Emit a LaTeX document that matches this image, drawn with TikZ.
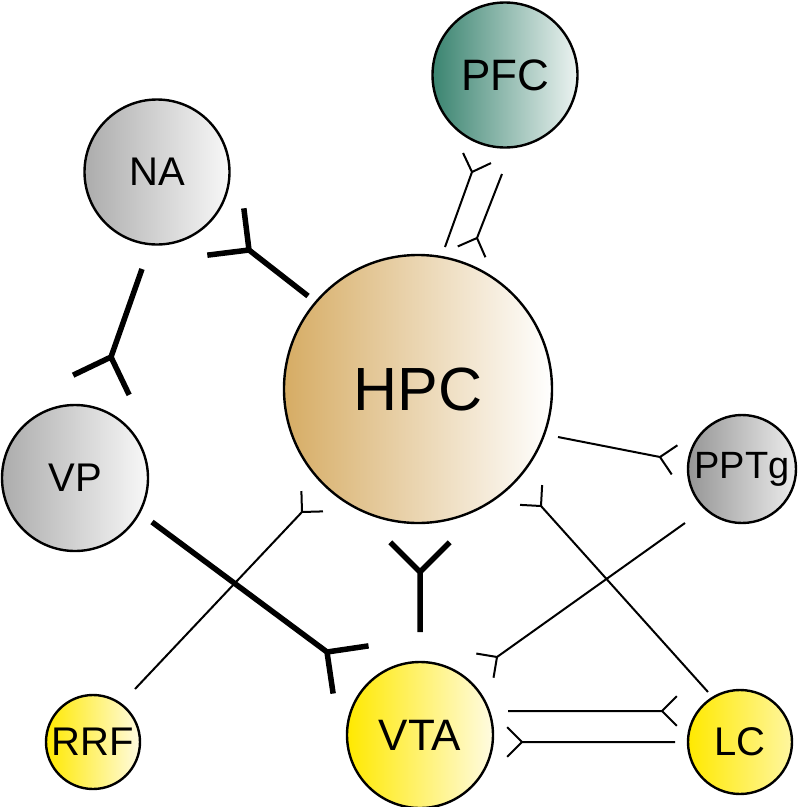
\documentclass[tikz,border=0pt]{standalone}
\usepackage{fontspec}
\setmainfont{Liberation Sans}
\usetikzlibrary{calc}
\definecolor{hpcL}{RGB}{214,172,100}
\definecolor{pfcL}{RGB}{58,132,112}
\definecolor{pfcR}{RGB}{236,243,241}
\definecolor{greyL}{RGB}{172,172,172}
\definecolor{greyR}{RGB}{248,248,248}
\definecolor{pptL}{RGB}{150,150,150}
\definecolor{pptR}{RGB}{236,236,236}
\definecolor{yelL}{RGB}{255,233,0}
\definecolor{yelR}{RGB}{255,251,225}
\definecolor{lcR}{RGB}{255,246,160}
\tikzset{
  region/.style={circle, draw=black, line width=2.4pt, inner sep=0pt, minimum size=#1},
  lab/.style={font=\fontsize{40}{48}\selectfont},
  syn/.style={to path={-- (\tikztotarget) ($(\tikztotarget)!#1!135:(\tikztostart)$) -- (\tikztotarget) -- ($(\tikztotarget)!#1!-135:(\tikztostart)$)}},
  thinsyn/.style={line width=2pt, line join=miter, syn=21pt},
  thicksyn/.style={line width=5.5pt, line join=miter, syn=42pt},
}
\begin{document}
\begin{tikzpicture}[x=1pt,y=-1pt]
\useasboundingbox (0,0) rectangle (800,807);
% regions
\node[region=268pt, left color=hpcL, right color=white, font=\fontsize{61}{70}\selectfont] (hpc) at (418,389) {HPC};
\node[region=145pt, left color=pfcL, right color=pfcR, font=\fontsize{44}{52}\selectfont] (pfc) at (505,75) {PFC};
\node[region=145pt, left color=greyL, right color=greyR, lab] (na) at (157,172) {NA};
\node[region=146pt, left color=greyL, right color=greyR, lab] (vp) at (75,478) {VP};
\node[region=108pt, left color=pptL, right color=pptR, font=\fontsize{38}{46}\selectfont] (pptg) at (742,469) {PPTg};
\node[region=94pt, left color=yelL, right color=yelR, lab] (rrf) at (93,742) {RRF};
\node[region=146pt, left color=yelL, right color=yelR, font=\fontsize{44}{52}\selectfont] (vta) at (420,735) {VTA};
\node[region=104pt, left color=yelL, right color=lcR, lab] (lc) at (740,742) {LC};
% connector end points
\coordinate (hpcpfcS) at (445,247); \coordinate (hpcpfcE) at (472,172);
\coordinate (pfchpcS) at (502,174); \coordinate (pfchpcE) at (477,238);
\coordinate (hpcnaS) at (308,296);  \coordinate (hpcnaE) at (249,250);
\coordinate (navpS) at (142,269);   \coordinate (navpE) at (111,357);
\coordinate (vtahpcS) at (420,632); \coordinate (vtahpcE) at (420,572);
\coordinate (vpvtaS) at (152,522);  \coordinate (vpvtaE) at (327,652);
\coordinate (rrfhpcS) at (135,689); \coordinate (rrfhpcE) at (302,512);
\coordinate (hpcpptS) at (558,437); \coordinate (hpcpptE) at (660,457);
\coordinate (pptvtaS) at (685,523); \coordinate (pptvtaE) at (497,657);
\coordinate (lchpcS) at (708,692);  \coordinate (lchpcE) at (541,506);
\coordinate (vtalcS) at (508,711);  \coordinate (vtalcE) at (662,711);
\coordinate (lcvtaS) at (675,742);  \coordinate (lcvtaE) at (522,742);
% connectors
\draw[thinsyn] (hpcpfcS) to (hpcpfcE);
\draw[thinsyn] (pfchpcS) to (pfchpcE);
\draw[thicksyn] (hpcnaS) to (hpcnaE);
\draw[thicksyn] (navpS) to (navpE);
\draw[thicksyn] (vtahpcS) to (vtahpcE);
\draw[thicksyn] (vpvtaS) to (vpvtaE);
\draw[thinsyn] (rrfhpcS) to (rrfhpcE);
\draw[thinsyn] (hpcpptS) to (hpcpptE);
\draw[thinsyn] (pptvtaS) to (pptvtaE);
\draw[thinsyn] (lchpcS) to (lchpcE);
\draw[thinsyn] (vtalcS) to (vtalcE);
\draw[thinsyn] (lcvtaS) to (lcvtaE);
\end{tikzpicture}
\end{document}
